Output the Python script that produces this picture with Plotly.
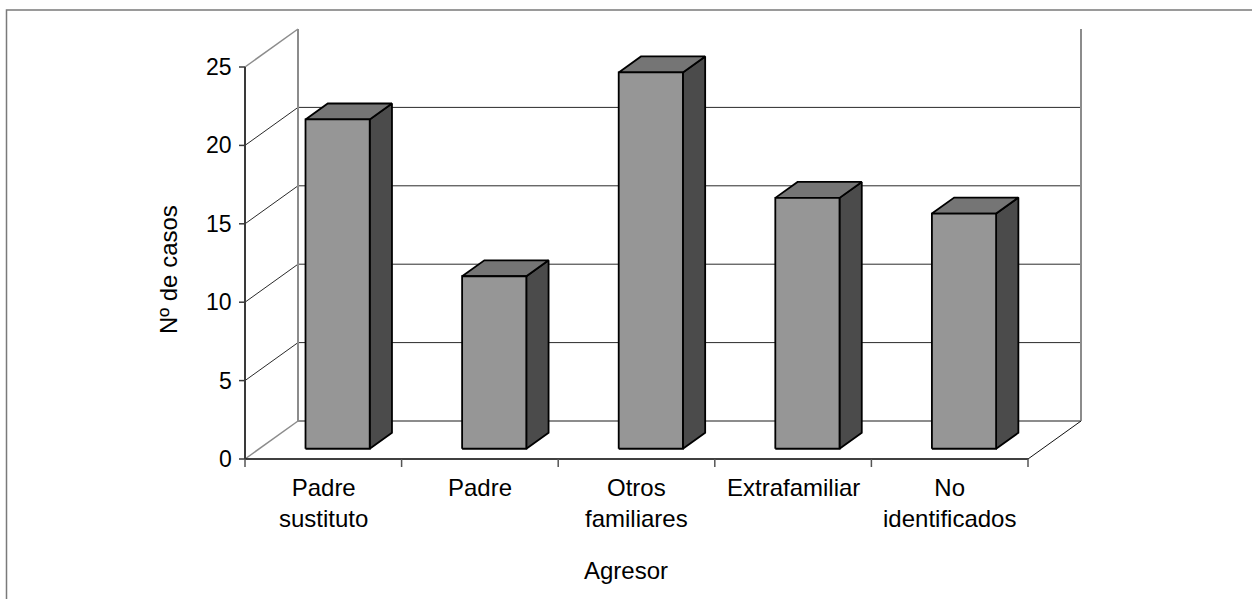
import plotly.graph_objects as go

# Cases per aggressor type
categories = ["Padre<br>sustituto", "Padre", "Otros<br>familiares", "Extrafamiliar", "No<br>identificados"]
casos = [21, 11, 24, 16, 15]
y_ticks = [0, 5, 10, 15, 20, 25]

# ---- oblique 3-D projection set-up -------------------------------------
W, H = 1252, 599
X0_PX, Y0_PX = 245, 459          # front corner of the floor (value 0, first category edge)
CAT_PX, UNIT_PX = 156.6, 15.68   # pixels per category / per value unit
DEPTH_X_PX, DEPTH_Y_PX = 53, 38  # screen offset of the back wall
DX, DY = DEPTH_X_PX / CAT_PX, DEPTH_Y_PX / UNIT_PX
N = len(categories)
VMAX = y_ticks[-1]

BAR_W = 0.41                     # bar width in category units
T0, T1 = 0.27, 0.69              # bar front / back depth (0 = front, 1 = back wall)

FONT = dict(family="Arial, 'Liberation Sans', sans-serif", size=24, color="#000000")
TICK_FONT = dict(FONT, size=23)


def proj(c, v, t):
    """Project (category, value, depth) onto the 2-D data plane."""
    return c + t * DX, v + t * DY


def px_to_paper(px, py):
    return px / W, 1 - py / H


fig = go.Figure()
shapes = []


def seg(p, q, color, width, layer="below"):
    (x0, y0), (x1, y1) = p, q
    shapes.append(dict(type="line", xref="x", yref="y", x0=x0, y0=y0, x1=x1, y1=y1,
                       line=dict(color=color, width=width), layer=layer))


GRID = "#2a2a2a"
EDGE = "#8c8c8c"

# back wall gridlines and the diagonals joining them to the value axis
for v in y_ticks:
    if 0 < v < VMAX:
        seg(proj(0, v, 1), proj(N, v, 1), GRID, 1)
        seg(proj(0, v, 0), proj(0, v, 1), GRID, 1)
    else:
        seg(proj(0, v, 0), proj(0, v, 1), EDGE, 1.5)

# walls and floor edges
seg(proj(0, 0, 1), proj(0, VMAX, 1), EDGE, 2)
seg(proj(N, 0, 1), proj(N, VMAX, 1), EDGE, 2)
seg(proj(0, 0, 1), proj(N, 0, 1), EDGE, 2)
seg(proj(N, 0, 0), proj(N, 0, 1), "#111111", 1)

# front axes
seg(proj(0, 0, 0), proj(N, 0, 0), "#000000", 1.6, "above")
seg(proj(0, 0, 0), proj(0, VMAX, 0), "#3a3a3a", 2, "above")

# tick marks
for v in y_ticks:
    shapes.append(dict(type="line", xref="x", yref="y", x0=-6, x1=0, y0=v, y1=v,
                       xsizemode="pixel", xanchor=0,
                       line=dict(color="#3a3a3a", width=1.5), layer="above"))
for i in range(N + 1):
    shapes.append(dict(type="line", xref="x", yref="y", x0=i, x1=i, y0=-8, y1=0,
                       ysizemode="pixel", yanchor=0,
                       line=dict(color="#555555", width=1.5), layer="above"))

# bars: front, side and top faces
FRONT, SIDE, TOP = "#969696", "#4b4b4b", "#757575"


def face(points, color):
    xs, ys = zip(*points)
    xs = list(xs) + [xs[0]]
    ys = list(ys) + [ys[0]]
    fig.add_trace(go.Scatter(x=xs, y=ys, mode="lines", fill="toself", fillcolor=color,
                             line=dict(color="#000000", width=1.8), hoverinfo="skip",
                             showlegend=False))


for i, v in enumerate(casos):
    l, r = i + 0.5 - BAR_W / 2, i + 0.5 + BAR_W / 2
    face([proj(r, 0, T0), proj(r, 0, T1), proj(r, v, T1), proj(r, v, T0)], SIDE)
    face([proj(l, v, T0), proj(r, v, T0), proj(r, v, T1), proj(l, v, T1)], TOP)
    face([proj(l, 0, T0), proj(r, 0, T0), proj(r, v, T0), proj(l, v, T0)], FRONT)

annotations = []
# value tick labels
for v in y_ticks:
    annotations.append(dict(x=0, y=v, xref="x", yref="y", text=str(v), showarrow=False,
                            xanchor="right", yanchor="middle", xshift=-11, font=TICK_FONT))
# category labels
for i, name in enumerate(categories):
    lines = name.count("<br>") + 1
    annotations.append(dict(x=i + 0.5, y=0, xref="x", yref="y", text=name, showarrow=False,
                            xanchor="center", yanchor="middle",
                            yshift=-(28 + (lines - 1) * 31 / 2), font=FONT))

# axis titles
ax, ay = px_to_paper(626, 570)
annotations.append(dict(x=ax, y=ay, xref="paper", yref="paper", text="Agresor", showarrow=False,
                        xanchor="center", yanchor="middle", font=FONT))
tx, ty = px_to_paper(168, 270)
annotations.append(dict(x=tx, y=ty, xref="paper", yref="paper", text="Nº de casos", showarrow=False,
                        textangle=-90, xanchor="center", yanchor="middle", font=FONT))

# chart area border
fx0, fy1 = px_to_paper(6.5, 10)
shapes.append(dict(type="rect", xref="paper", yref="paper", x0=fx0, y0=-0.05, x1=1.05, y1=fy1,
                   line=dict(color="#7a7a7a", width=1.5), layer="above"))

x_range = [-X0_PX / CAT_PX, (W - X0_PX) / CAT_PX]
y_range = [(Y0_PX - H) / UNIT_PX, Y0_PX / UNIT_PX]

fig.update_layout(
    width=W, height=H,
    margin=dict(l=0, r=0, t=0, b=0),
    paper_bgcolor="#ffffff", plot_bgcolor="#ffffff",
    xaxis=dict(range=x_range, visible=False, fixedrange=True),
    yaxis=dict(range=y_range, visible=False, fixedrange=True),
    shapes=shapes, annotations=annotations, showlegend=False,
)

fig.write_html("out.html")
